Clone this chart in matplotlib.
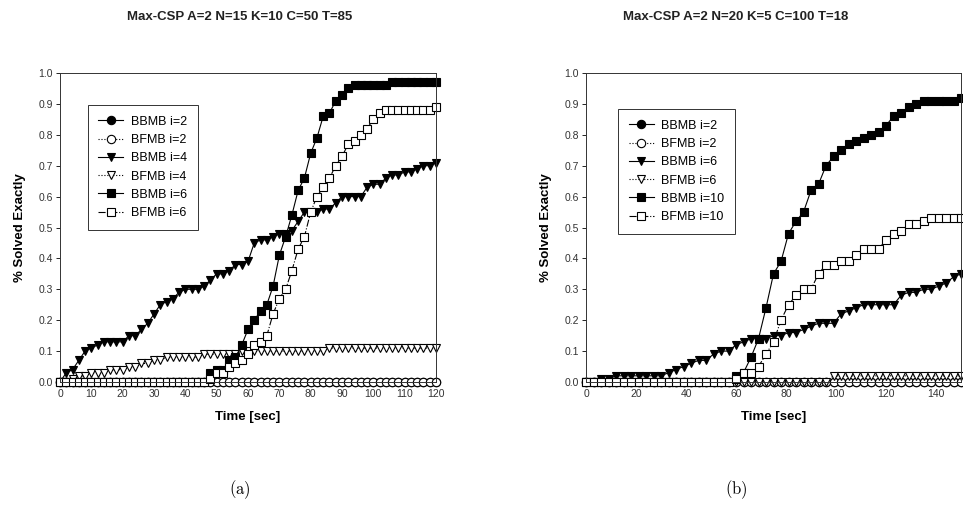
import matplotlib.pyplot as plt
import numpy as np

plt.rcParams['font.family'] = ['Liberation Sans', 'DejaVu Sans']
plt.rcParams['mathtext.fontset'] = 'cm'

# ---- panel (a): N=15, sampled every 2 sec ----
time_a = np.arange(0, 121, 2)
bbmb2_a = [0.0] * 61
bfmb2_a = [0.0] * 61
bbmb4_a = [0.00, 0.03, 0.04, 0.07, 0.10, 0.11, 0.12, 0.13, 0.13, 0.13,
           0.13, 0.15, 0.15, 0.17, 0.19, 0.22, 0.25, 0.26, 0.27, 0.29,
           0.30, 0.30, 0.30, 0.31, 0.33, 0.35, 0.35, 0.36, 0.38, 0.38,
           0.39, 0.45, 0.46, 0.46, 0.47, 0.48, 0.48, 0.49, 0.52, 0.55,
           0.55, 0.55, 0.56, 0.56, 0.58, 0.60, 0.60, 0.60, 0.60, 0.63,
           0.64, 0.64, 0.66, 0.67, 0.67, 0.68, 0.68, 0.69, 0.70, 0.70,
           0.71]
bfmb4_a = [0.00, 0.00, 0.01, 0.02, 0.02, 0.03, 0.03, 0.03, 0.04, 0.04,
           0.04, 0.05, 0.05, 0.06, 0.06, 0.07, 0.07, 0.08, 0.08, 0.08,
           0.08, 0.08, 0.08, 0.09, 0.09, 0.09, 0.09, 0.09, 0.09, 0.10,
           0.10, 0.10, 0.10, 0.10, 0.10, 0.10, 0.10, 0.10, 0.10, 0.10,
           0.10, 0.10, 0.10, 0.11, 0.11, 0.11, 0.11, 0.11, 0.11, 0.11,
           0.11, 0.11, 0.11, 0.11, 0.11, 0.11, 0.11, 0.11, 0.11, 0.11,
           0.11]
bbmb6_a = [0, 0, 0, 0, 0, 0, 0, 0, 0, 0,
           0, 0, 0, 0, 0, 0, 0, 0, 0, 0,
           0, 0, 0, 0, 0.03, 0.04, 0.04, 0.07, 0.08, 0.12,
           0.17, 0.20, 0.23, 0.25, 0.31, 0.41, 0.47, 0.54, 0.62, 0.66,
           0.74, 0.79, 0.86, 0.87, 0.91, 0.93, 0.95, 0.96, 0.96, 0.96,
           0.96, 0.96, 0.96, 0.97, 0.97, 0.97, 0.97, 0.97, 0.97, 0.97,
           0.97]
bfmb6_a = [0, 0, 0, 0, 0, 0, 0, 0, 0, 0,
           0, 0, 0, 0, 0, 0, 0, 0, 0, 0,
           0, 0, 0, 0, 0.01, 0.03, 0.03, 0.05, 0.06, 0.07,
           0.09, 0.12, 0.13, 0.15, 0.22, 0.27, 0.30, 0.36, 0.43, 0.47,
           0.55, 0.60, 0.63, 0.66, 0.70, 0.73, 0.77, 0.78, 0.80, 0.82,
           0.85, 0.87, 0.88, 0.88, 0.88, 0.88, 0.88, 0.88, 0.88, 0.88,
           0.89]

# ---- panel (b): N=20, sampled every 3 sec ----
time_b = np.arange(0, 151, 3)
bbmb2_b = [0.0] * 51
bfmb2_b = [0.0] * 51
bbmb6_b = [0, 0, 0.01, 0.01, 0.02, 0.02, 0.02, 0.02, 0.02, 0.02,
           0.02, 0.03, 0.04, 0.05, 0.06, 0.07, 0.07, 0.09, 0.10, 0.10,
           0.12, 0.13, 0.14, 0.14, 0.14, 0.15, 0.15, 0.16, 0.16, 0.17,
           0.18, 0.19, 0.19, 0.19, 0.22, 0.23, 0.24, 0.25, 0.25, 0.25,
           0.25, 0.25, 0.28, 0.29, 0.29, 0.30, 0.30, 0.31, 0.32, 0.34,
           0.35]
bfmb6_b = [0.0] * 33 + [0.02] * 18
bbmb10_b = [0, 0, 0, 0, 0, 0, 0, 0, 0, 0,
            0, 0, 0, 0, 0, 0, 0, 0, 0, 0,
            0.02, 0.03, 0.08, 0.14, 0.24, 0.35, 0.39, 0.48, 0.52, 0.55,
            0.62, 0.64, 0.70, 0.73, 0.75, 0.77, 0.78, 0.79, 0.80, 0.81,
            0.83, 0.86, 0.87, 0.89, 0.90, 0.91, 0.91, 0.91, 0.91, 0.91,
            0.92]
bfmb10_b = [0, 0, 0, 0, 0, 0, 0, 0, 0, 0,
            0, 0, 0, 0, 0, 0, 0, 0, 0, 0,
            0.01, 0.03, 0.03, 0.05, 0.09, 0.13, 0.20, 0.25, 0.28, 0.30,
            0.30, 0.35, 0.38, 0.38, 0.39, 0.39, 0.41, 0.43, 0.43, 0.43,
            0.46, 0.48, 0.49, 0.51, 0.51, 0.52, 0.53, 0.53, 0.53, 0.53,
            0.53]

# marker, fill, linestyle per legend slot
styles = [('o', 'k', '-'), ('o', 'w', ':'), ('v', 'k', '-'),
          ('v', 'w', ':'), ('s', 'k', '-'), ('s', 'w', '-.')]

W, H = 963, 514
fig = plt.figure(figsize=(W / 100, H / 100), dpi=100)
ax_a = fig.add_axes([60 / W, 132 / H, 376 / W, 309 / H])
ax_b = fig.add_axes([586 / W, 132 / H, 375 / W, 309 / H])

panels = [
    (ax_a, time_a, [bbmb2_a, bfmb2_a, bbmb4_a, bfmb4_a, bbmb6_a, bfmb6_a],
     ['BBMB i=2', 'BFMB i=2', 'BBMB i=4', 'BFMB i=4', 'BBMB i=6', 'BFMB i=6'],
     120, np.arange(0, 121, 10), (0.074, 0.896)),
    (ax_b, time_b, [bbmb2_b, bfmb2_b, bbmb6_b, bfmb6_b, bbmb10_b, bfmb10_b],
     ['BBMB i=2', 'BFMB i=2', 'BBMB i=6', 'BFMB i=6', 'BBMB i=10', 'BFMB i=10'],
     150, np.arange(0, 141, 20), (0.085, 0.883)),
]

for ax, t, series, labels, xmax, xticks, legpos in panels:
    for y, lab, (m, fc, ls) in zip(series, labels, styles):
        ax.plot(t, y, linestyle=ls, color='k', linewidth=0.8, marker=m,
                markersize=6, markerfacecolor=fc, markeredgecolor='k',
                markeredgewidth=0.8, label=lab, clip_on=False)
    ax.set_xlim(0, xmax)
    ax.set_ylim(0, 1.0)
    ax.set_xticks(xticks)
    ax.set_yticks(np.arange(0, 1.01, 0.1))
    ax.set_yticklabels(['%.1f' % v for v in np.arange(0, 1.01, 0.1)])
    ax.tick_params(axis='y', direction='out', length=3, width=0.6,
                   labelsize=7.5, labelcolor='#333333', pad=2)
    ax.tick_params(axis='x', length=0, labelsize=7.5, labelcolor='#333333', pad=5)
    for sp in ax.spines.values():
        sp.set_linewidth(0.7)
        sp.set_color('#333333')
    ax.set_xlabel('Time [sec]', fontsize=9.5, fontweight='bold', labelpad=9)
    ax.set_ylabel('% Solved Exactly', fontsize=9.5, fontweight='bold', labelpad=9)
    leg = ax.legend(loc='upper left', bbox_to_anchor=legpos, fontsize=9,
                    handlelength=2.0, handletextpad=0.6, borderpad=0.85,
                    borderaxespad=0, labelspacing=0.5, fancybox=False,
                    edgecolor='#333333', framealpha=1)
    leg.get_frame().set_linewidth(0.7)

fig.text(240 / W, 1 - 17 / H, 'Max-CSP A=2 N=15 K=10 C=50 T=85',
         ha='center', va='center', fontsize=9.5, fontweight='bold', color='#222222')
fig.text(736 / W, 1 - 17 / H, 'Max-CSP A=2 N=20 K=5 C=100 T=18',
         ha='center', va='center', fontsize=9.5, fontweight='bold', color='#222222')
fig.text(240 / W, 1 - 490 / H, r'$\mathrm{(a)}$', ha='center', va='center', fontsize=12)
fig.text(736 / W, 1 - 490 / H, r'$\mathrm{(b)}$', ha='center', va='center', fontsize=12)

fig.savefig('out.png', dpi=100)
